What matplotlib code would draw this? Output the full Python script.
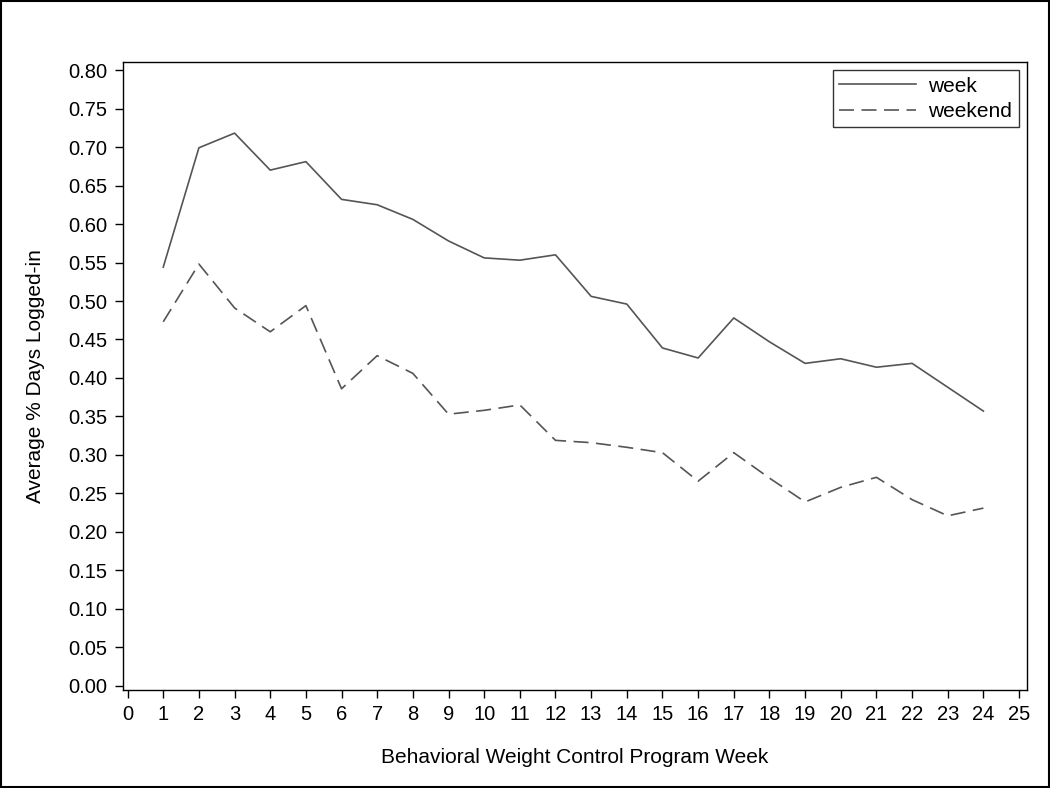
import matplotlib
matplotlib.use("Agg")
import matplotlib.pyplot as plt
from matplotlib.patches import Rectangle

plt.rcParams['font.family'] = ['Liberation Sans', 'DejaVu Sans']

weeks = list(range(1, 25))
week_vals = [0.544, 0.699, 0.718, 0.670, 0.681, 0.632, 0.625, 0.606, 0.578, 0.556,
             0.553, 0.560, 0.506, 0.496, 0.439, 0.426, 0.478, 0.447, 0.419, 0.425,
             0.414, 0.419, 0.388, 0.357]
weekend_vals = [0.473, 0.548, 0.491, 0.460, 0.494, 0.386, 0.429, 0.406, 0.353, 0.358,
                0.365, 0.319, 0.316, 0.310, 0.303, 0.266, 0.303, 0.270, 0.239, 0.258,
                0.271, 0.242, 0.221, 0.231]
xticks = list(range(0, 26))
yticks = [i * 0.05 for i in range(17)]

fig = plt.figure(figsize=(10.5, 7.88), dpi=100)
ax = fig.add_axes([0.1171, 0.1244, 0.978 - 0.1171, 0.9213 - 0.1244])

col = '#555555'
ax.plot(weeks, week_vals, color=col, lw=1.2, label='week')
ax.plot(weeks, weekend_vals, color=col, lw=1.2, linestyle=(0, (9, 4.5)), label='weekend')

ax.set_xlim(-0.13, 25.22)
ax.set_ylim(-0.0052, 0.8104)
ax.set_xticks(xticks)
ax.set_yticks(yticks)
ax.set_yticklabels([f"{v:.2f}" for v in yticks])
ax.tick_params(direction='out', length=6, width=1, labelsize=14.5, colors='black', pad=5)
for s in ax.spines.values():
    s.set_linewidth(1)

ax.set_xlabel('Behavioral Weight Control Program Week', fontsize=15, labelpad=17)
ax.set_ylabel('Average % Days Logged-in', fontsize=15, labelpad=17)

leg = ax.legend(loc='upper right', fontsize=15, handlelength=3.7, frameon=True,
                fancybox=False, borderaxespad=0.4, borderpad=0.3, labelspacing=0.3,
                handletextpad=0.6)
leg.get_frame().set_edgecolor('black')
leg.get_frame().set_linewidth(1)

fig.patches.append(Rectangle((0.001, 0.001), 0.998, 0.998, transform=fig.transFigure,
                             fill=False, edgecolor='black', lw=1.5))

fig.savefig('out.png', dpi=100)
